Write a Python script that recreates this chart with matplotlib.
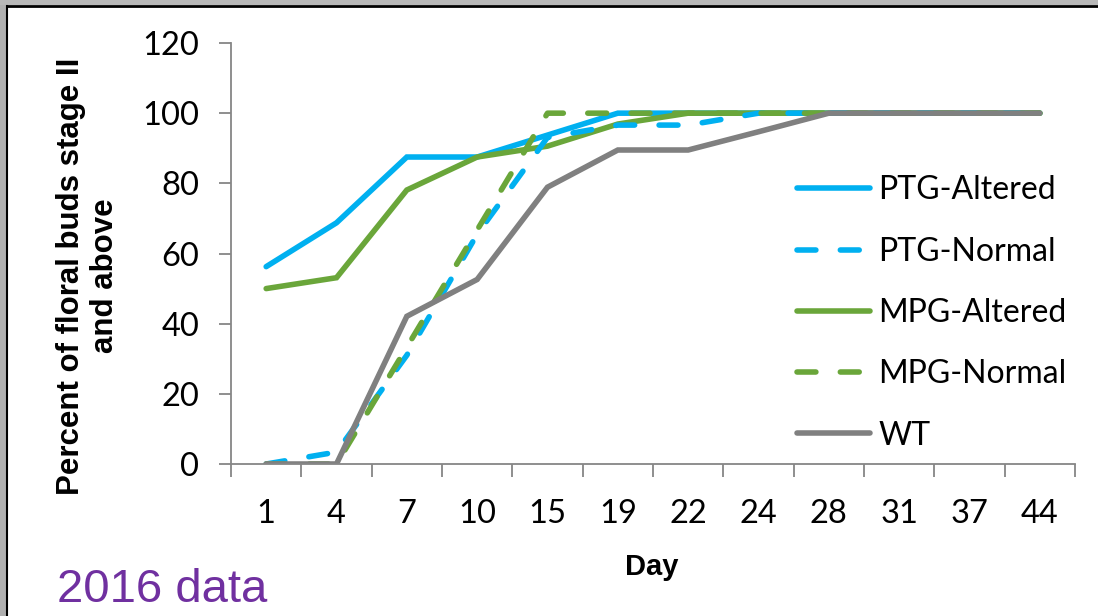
import matplotlib
matplotlib.use("Agg")
import matplotlib.pyplot as plt
from matplotlib.patches import Rectangle
from matplotlib.lines import Line2D

days = ["1", "4", "7", "10", "15", "19", "22", "24", "28", "31", "37", "44"]
ptg_altered = [56.25, 68.75, 87.5, 87.5, 93.75, 100, 100, 100, 100, 100, 100, 100]
ptg_normal = [0, 3.4, 31.0, 65.5, 93.1, 96.6, 96.6, 100, 100, 100, 100, 100]
mpg_altered = [50.0, 53.1, 78.1, 87.5, 90.6, 96.9, 100, 100, 100, 100, 100, 100]
mpg_normal = [0, 0, 33.3, 66.7, 100, 100, 100, 100, 100, 100, 100, 100]
wt = [0, 0, 42.1, 52.6, 78.9, 89.5, 89.5, 94.7, 100, 100, 100, 100]
series_names = ["PTG-Altered", "PTG-Normal", "MPG-Altered", "MPG-Normal", "WT"]
y_ticks = [0, 20, 40, 60, 80, 100, 120]

BLUE = "#00B0F0"
GREEN = "#6AA63A"
GRAY = "#808080"
lab_font = "Lato"

fig = plt.figure(figsize=(10.98, 6.16), dpi=100)
fig.patch.set_facecolor("white")

# frame of the slide
fig.patches.append(Rectangle((0, 0), 6 / 1098, 1, transform=fig.transFigure,
                             facecolor="#B0B0B0", edgecolor="none", zorder=0))
fig.patches.append(Rectangle((0, 1 - 5 / 616), 1, 5 / 616, transform=fig.transFigure,
                             facecolor="#B8B8B8", edgecolor="none", zorder=0))
fig.lines.append(Line2D([7 / 1098, 7 / 1098], [0, 1 - 5.5 / 616], transform=fig.transFigure,
                        color="black", lw=1.5))
fig.lines.append(Line2D([7 / 1098, 1], [1 - 5.5 / 616, 1 - 5.5 / 616], transform=fig.transFigure,
                        color="black", lw=2))

ax = fig.add_axes([231 / 1098, 1 - 464 / 616, 844 / 1098, 421 / 616])
x = list(range(len(days)))
lw = 4.0
dash = (3.4, 4.4)
data = [ptg_altered, ptg_normal, mpg_altered, mpg_normal, wt]
styles = [(BLUE, "-"), (BLUE, "--"), (GREEN, "-"), (GREEN, "--"), (GRAY, "-")]
handles = {}
for i in [0, 2, 1, 3, 4]:
    color, ls = styles[i]
    kw = dict(color=color, lw=lw, solid_capstyle="round", dash_capstyle="round",
              solid_joinstyle="miter", label=series_names[i])
    if ls == "--":
        kw["dashes"] = dash
    (h,) = ax.plot(x, data[i], **kw)
    handles[i] = h

ax.set_xlim(-0.5, len(days) - 0.5)
ax.set_ylim(0, 120)
ax.set_yticks(y_ticks)
ax.set_xticks(x)
ax.set_xticklabels(days)
ax.set_xticks([i - 0.5 for i in range(len(days) + 1)], minor=True)
ax.tick_params(axis="x", which="major", length=0, pad=25, labelsize=23.5)
ax.tick_params(axis="x", which="minor", length=9, width=1.3, color="#868686", direction="out")
ax.tick_params(axis="y", length=9, width=1.3, color="#868686", pad=14, labelsize=23.5)
for lab in ax.get_xticklabels() + ax.get_yticklabels():
    lab.set_fontfamily(lab_font)
for s in ["top", "right"]:
    ax.spines[s].set_visible(False)
for s in ["left", "bottom"]:
    ax.spines[s].set_color("#868686")
    ax.spines[s].set_linewidth(1.3)

fig.text(652 / 1098, 1 - 567 / 616, "Day", fontsize=21, fontweight="bold",
         family="Liberation Sans", ha="center", va="center")
fig.text(88 / 1098, 1 - 276 / 616, "Percent of floral buds stage II\nand above", rotation=90,
         ha="center", va="center", fontsize=22.5, fontweight="bold", family="Liberation Sans",
         linespacing=1.15)

leg = ax.legend([handles[i] for i in range(5)], series_names, loc="center left",
                bbox_to_anchor=(797 / 1098, 1 - 313 / 616), bbox_transform=fig.transFigure,
                frameon=False, handlelength=2.3, handletextpad=0.25, labelspacing=0.98,
                prop={"family": lab_font, "size": 23}, borderaxespad=0, borderpad=0)

fig.text(57 / 1098, 1 - 590 / 616, "2016 data", color="#7030A0", fontsize=34,
         family="Liberation Sans", ha="left", va="center")

fig.savefig("out.png", dpi=100)
